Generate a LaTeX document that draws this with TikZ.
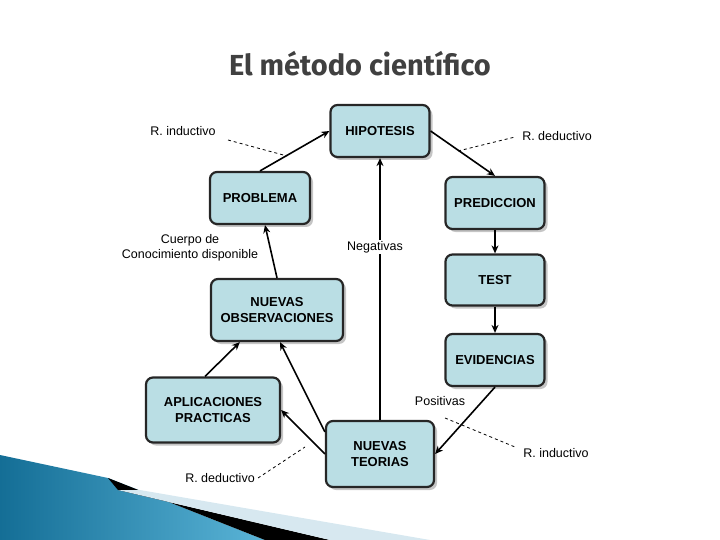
\documentclass[tikz,border=0pt]{standalone}
\usepackage{fontspec}
\setmainfont{Liberation Sans}
\newfontfamily\titlefont{Fira Sans}
\usetikzlibrary{shadows,arrows.meta}
\definecolor{boxfill}{RGB}{186,222,228}
\definecolor{blueA}{RGB}{20,110,150}
\definecolor{blueB}{RGB}{90,180,215}
\definecolor{lightband}{RGB}{215,232,240}
\tikzset{
  box/.style={draw=black!85,line width=2.2pt,rounded corners=7pt,fill=boxfill,
    font=\bfseries\fontsize{13}{16}\selectfont,align=center,
    drop shadow={shadow xshift=3pt,shadow yshift=-3pt,fill=black!45}},
  arr/.style={line width=1.6pt,-{Stealth[length=8pt,width=7pt]}},
  dashline/.style={dashed,line width=0.8pt},
  lbl/.style={font=\fontsize{12.5}{15}\selectfont,align=center,inner sep=1pt}
}
\begin{document}
\begin{tikzpicture}[x=1pt,y=-1pt]
\useasboundingbox (0,0) rectangle (720,540);
% decoration
\shade[left color=blueA,right color=blueB] (0,455) -- (108,478) -- (265,540) -- (0,540) -- cycle;
\fill[black] (108,478) -- (118,490) -- (330,540) -- (265,540) -- cycle;
\fill[lightband] (118,490) -- (140,490) -- (430,540) -- (330,540) -- cycle;
\node[font=\titlefont\bfseries\fontsize{29}{34}\selectfont,text=black!75] (title) at (360,64) {El método científico};
% boxes
\node[box,minimum width=99pt,minimum height=52pt] (hip) at (380,131) {HIPOTESIS};
\node[box,minimum width=100pt,minimum height=52pt] (prob) at (260,198) {PROBLEMA};
\node[box,minimum width=99pt,minimum height=52pt] (pred) at (495,203) {PREDICCION};
\node[box,minimum width=99pt,minimum height=51pt] (test) at (495,280) {TEST};
\node[box,minimum width=99pt,minimum height=52pt] (evid) at (495,360) {EVIDENCIAS};
\node[box,minimum width=132pt,minimum height=62pt] (obs) at (277,310) {NUEVAS\\OBSERVACIONES};
\node[box,minimum width=134pt,minimum height=65pt] (apl) at (213,410) {APLICACIONES\\PRACTICAS};
\node[box,minimum width=108pt,minimum height=66pt] (teo) at (380,454) {NUEVAS\\TEORIAS};
% labels
\node[lbl] (neg) at (375,247) {Negativas};
\node[lbl] (cuerpo) at (190,248) {Cuerpo de\\Conocimiento disponible};
\node[lbl] (pos) at (440,401) {Positivas};
\node[lbl] (ri1) at (183,131) {R. inductivo};
\node[lbl] (rd1) at (557,136) {R. deductivo};
\node[lbl] (ri2) at (556,453) {R. inductivo};
\node[lbl] (rd2) at (220,478) {R. deductivo};
% arrows
\draw[arr] (prob.north) -- (hip.west);
\draw[arr] (hip.east) -- (pred.north);
\draw[arr] (pred) -- (test);
\draw[arr] (test) -- (evid);
\draw[arr] (evid.south) -- (teo.east);
\draw[line width=1.6pt] (teo.north) -- (teo.north |- neg.south);
\draw[arr] (hip.south |- neg.north) -- (hip.south);
\draw[arr] (teo.west) -- (apl.east);
\draw[arr] ([yshift=-12pt]teo.north west) -- ([xshift=3pt]obs.south);
\draw[arr] ([xshift=-8pt]apl.north) -- ([xshift=30pt]obs.south west);
\draw[arr] (obs.north) -- ([xshift=5pt]prob.south);
% dashed
\coordinate (d1a) at (228,140); \coordinate (d1b) at (287,156);
\draw[dashline] (d1a) -- (d1b);
\coordinate (d2a) at (458,151); \coordinate (d2b) at (515,137);
\draw[dashline] (d2a) -- (d2b);
\coordinate (d3a) at (445,418); \coordinate (d3b) at (515,447);
\draw[dashline] (d3a) -- (d3b);
\coordinate (d4a) at (258,478); \coordinate (d4b) at (305,447);
\draw[dashline] (d4a) -- (d4b);
\end{tikzpicture}
\end{document}
